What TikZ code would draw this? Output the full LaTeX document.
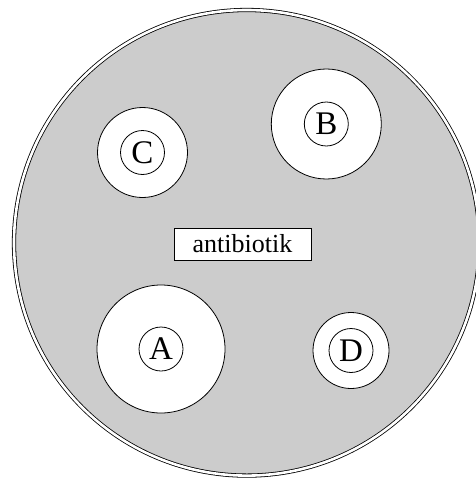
\documentclass[tikz,border=0pt]{standalone}
\usepackage{fontspec}
\setmainfont{Liberation Serif}

\begin{document}
\begin{tikzpicture}[x=1pt,y=-1pt,
		plate/.style={fill=black!20,draw,line width=0.8pt,double=white,double distance=2.6pt},
		zone/.style={circle,draw,fill=white,line width=0.8pt,inner sep=0pt},
		colony/.style={circle,draw,line width=0.8pt,inner sep=0pt,minimum size=44pt,font=\fontsize{33}{36}\selectfont},
		label/.style={draw,fill=white,line width=0.8pt,inner sep=0pt,minimum width=137pt,minimum height=32pt,font=\fontsize{26}{30}\selectfont}]
		\useasboundingbox (0,0) rectangle (476,479);
		\draw[plate] (246.8,242.8) circle[radius=232.8pt];
		\node[label] (ab) at (242.5,244) {antibiotik};
		\node[zone,minimum size=90pt] (zC) at (142.5,152.5) {};
		\node[zone,minimum size=110pt] (zB) at (326.3,124) {};
		\node[zone,minimum size=128pt] (zA) at (161,349) {};
		\node[zone,minimum size=76pt] (zD) at (351,350.5) {};
		\node[colony] (C) at (zC) {C};
		\node[colony] (B) at (zB) {B};
		\node[colony] (A) at (zA) {A};
		\node[colony] (D) at (zD) {D};
		\end{tikzpicture}
\end{document}
